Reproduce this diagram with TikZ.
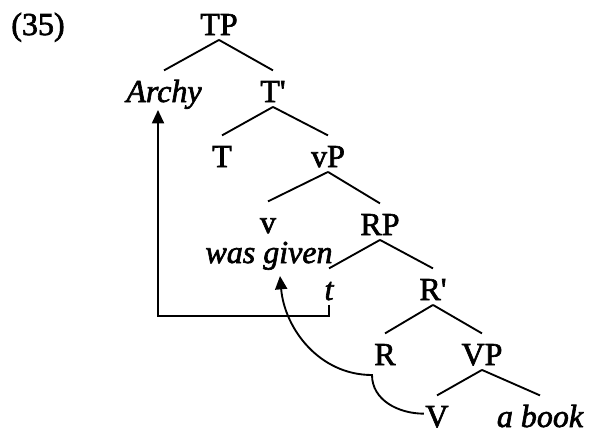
\documentclass[tikz,border=0pt]{standalone}
\usepackage{fontspec}
\setmainfont{Liberation Serif}[UprightFeatures={FakeBold=2}, ItalicFeatures={FakeBold=2}]
\usetikzlibrary{arrows.meta,positioning}

\begin{document}
\begin{tikzpicture}[x=0.75pt,y=-0.75pt,
  every node/.style={font=\fontsize{24}{28}\selectfont, anchor=base,
    text height=20pt, text depth=0pt, inner xsep=1pt, inner ysep=3.5pt},
  lex/.style={font=\fontsize{24}{28}\selectfont\itshape},
  branch/.style={line width=1.4pt},
  move/.style={line width=1.4pt, -{Triangle[length=10pt,width=9pt]}}]
  \useasboundingbox (0,0) rectangle (589,432);
  % labels of the tree
  \node (ex)    at (38,35)  {(35)};
  \node (TP)    at (219,35) {TP};
  \node[lex] (Archy) at (164,102) {Archy};
  \node (Tbar)  at (273,102) {T\textquotesingle};
  \node (T)     at (222,167) {T};
  \node (vP)    at (328,167) {vP};
  \node (v)     at (268,233) {v};
  \node[lex] (wg) at (269,263) {was given};
  \node (RP)    at (380,235) {RP};
  \node[lex] (t) at (329,300) {t};
  \node (Rbar)  at (433,300) {R\textquotesingle};
  \node (R)     at (385,365) {R};
  \node (VP)    at (482,365) {VP};
  \node (V)     at (437,427) {V};
  \node[lex] (book) at (540,427) {a book};
  % branches
  \draw[branch] (TP.south) -- (Archy.north);
  \draw[branch] (TP.south) -- (Tbar.north);
  \draw[branch] (Tbar.south) -- (T.north);
  \draw[branch] (Tbar.south) -- (vP.north);
  \draw[branch] (vP.south) -- (v.north);
  \draw[branch] (vP.south) -- (RP.north);
  \draw[branch] (RP.south) -- (t.north);
  \draw[branch] (RP.south) -- (Rbar.north);
  \draw[branch] (Rbar.south) -- (R.north);
  \draw[branch] (Rbar.south) -- (VP.north);
  \draw[branch] (VP.south) -- (V.north);
  \draw[branch] (VP.south) -- (book.north);
  % movement
  \coordinate (low) at (158,316);
  \coordinate (archyfoot) at (158,110);
  \coordinate (Rfoot) at (372,375);
  \coordinate (wgfoot) at (280,276);
  \draw[move] (t.south) |- (low) -- (archyfoot);
  \draw[move] (V.west) to[out=180,in=-90] (Rfoot) to[out=180,in=-85] (wgfoot);
\end{tikzpicture}
\end{document}
